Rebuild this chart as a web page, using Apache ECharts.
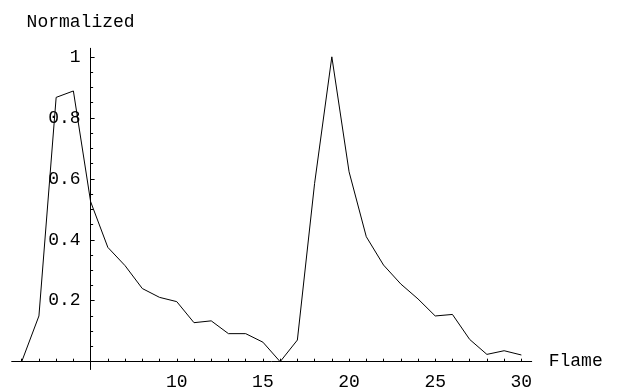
<!DOCTYPE html>
<html><head><meta charset="utf-8">
<script src="https://cdn.jsdelivr.net/npm/echarts@6/dist/echarts.min.js"></script>
<style>html,body{margin:0;padding:0;background:#fff}#c{width:617px;height:387px}</style>
</head><body><div id="c"></div><script>
const frames = [1,2,3,4,5,6,7,8,9,10,11,12,13,14,15,16,17,18,19,20,21,22,23,24,25,26,27,28,29,30];
const normalized = [0, 0.15, 0.867, 0.888, 0.525, 0.375, 0.315, 0.24, 0.211, 0.197, 0.128, 0.134, 0.092, 0.092, 0.064, 0, 0.071, 0.585, 1.0, 0.623, 0.41, 0.317, 0.255, 0.206, 0.15, 0.155, 0.073, 0.024, 0.036, 0.022];
const xTickLabels = [10, 15, 20, 25, 30];
const xMinorTicks = [1,2,3,4,6,7,8,9,10,11,12,13,14,15,16,17,18,19,20,21,22,23,24,25,26,27,28,29,30];
const yTickLabels = [0.2, 0.4, 0.6, 0.8, 1];
const yMinorTicks = [0.05,0.1,0.15,0.25,0.3,0.35,0.45,0.5,0.55,0.65,0.7,0.75,0.85,0.9,0.95];
const xName = 'Flame';
const yName = 'Normalized';
const crossX = 5;

const FONT = '"Liberation Mono", "Courier New", monospace';
const X_MIN = 0.42, X_MAX = 30.6, Y_MIN = -0.0256, Y_MAX = 1.028;
const GRID = {left: 11.7, right: 85.3, top: 48.3, bottom: 17.5};
const W = 617, H = 387;
const gridW = W - GRID.left - GRID.right;
// shift the y axis so that it crosses the x axis at crossX (axis placement, via the x scale)
const yOffset = -((crossX - X_MIN) / (X_MAX - X_MIN)) * gridW;
const txt = {color: '#000', fontFamily: FONT, fontSize: 18};

const chart = echarts.init(document.getElementById('c'), null, {renderer: 'canvas', width: W, height: H});
chart.setOption({
  animation: false,
  backgroundColor: '#fff',
  grid: Object.assign({containLabel: false, outerBoundsMode: 'none'}, GRID),
  xAxis: [
    {
      type: 'value', min: X_MIN, max: X_MAX, position: 'bottom',
      name: xName, nameLocation: 'end', nameGap: 17,
      nameTextStyle: Object.assign({verticalAlign: 'middle', align: 'left', padding: [4, 0, 0, 0]}, txt),
      axisLine: {show: true, onZero: true, onZeroAxisIndex: 0, lineStyle: {color: '#000', width: 1}},
      axisTick: {show: true, inside: true, length: 3, customValues: xMinorTicks, lineStyle: {color: '#000', width: 1}},
      axisLabel: Object.assign({show: true, customValues: xTickLabels, margin: 4}, txt),
      splitLine: {show: false}, minorTick: {show: false}
    }
  ],
  yAxis: [
    {
      type: 'value', min: Y_MIN, max: Y_MAX, position: 'left', offset: yOffset,
      name: yName, nameLocation: 'end', nameGap: 17,
      nameTextStyle: Object.assign({padding: [0, 20, 0, 0]}, txt),
      axisLine: {show: true, onZero: false, lineStyle: {color: '#000', width: 1}},
      axisTick: {show: true, inside: true, length: 4, customValues: yTickLabels, lineStyle: {color: '#000', width: 1}},
      axisLabel: Object.assign({show: true, customValues: yTickLabels, margin: 10}, txt),
      splitLine: {show: false}
    },
    {
      type: 'value', min: Y_MIN, max: Y_MAX, position: 'left', offset: yOffset,
      axisLine: {show: false, onZero: false},
      axisTick: {show: true, inside: true, length: 2.5, customValues: yMinorTicks, lineStyle: {color: '#000', width: 1}},
      axisLabel: {show: false},
      splitLine: {show: false}
    }
  ],
  series: [{
    type: 'line', xAxisIndex: 0, yAxisIndex: 0,
    data: frames.map((f, i) => [f, normalized[i]]),
    symbol: 'none', showSymbol: false,
    lineStyle: {color: '#000', width: 1},
    silent: true
  }]
});
</script></body></html>
